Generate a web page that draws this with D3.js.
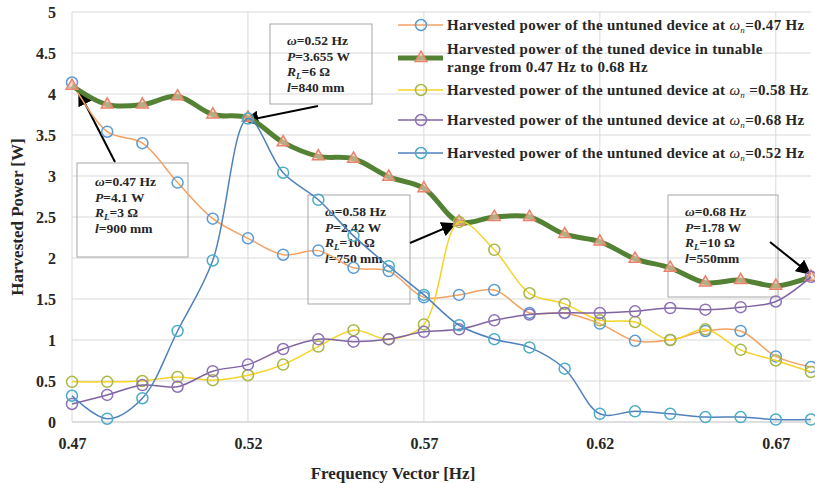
<!DOCTYPE html>
<html>
<head>
<meta charset="utf-8">
<script src="https://cdn.jsdelivr.net/npm/d3@7"></script>
<style>
  body { margin: 0; background: #fff; }
  svg { display: block; }
  text { font-family: "Liberation Serif", "Times New Roman", serif; font-weight: bold; fill: #262626; }
</style>
</head>
<body>
<svg id="chart" width="815" height="483"></svg>
<script>
// frequency vector [Hz]
var freq = [0.47, 0.48, 0.49, 0.50, 0.51, 0.52, 0.53, 0.54, 0.55, 0.56, 0.57,
            0.58, 0.59, 0.60, 0.61, 0.62, 0.63, 0.64, 0.65, 0.66, 0.67, 0.68];

// harvested power [W]
var untuned047 = [4.14, 3.54, 3.40, 2.92, 2.48, 2.24, 2.04, 2.09, 1.88, 1.84, 1.52,
                  1.55, 1.61, 1.33, 1.33, 1.20, 0.99, 1.00, 1.11, 1.11, 0.80, 0.67];
var tuned = [4.10, 3.87, 3.87, 3.97, 3.75, 3.71, 3.41, 3.24, 3.21, 2.99, 2.85,
             2.44, 2.50, 2.50, 2.29, 2.20, 1.99, 1.88, 1.70, 1.73, 1.66, 1.77];
var untuned058 = [0.49, 0.49, 0.50, 0.55, 0.51, 0.57, 0.70, 0.92, 1.12, 1.01, 1.19,
                  2.44, 2.10, 1.57, 1.44, 1.24, 1.22, 1.00, 1.13, 0.88, 0.75, 0.61];
var untuned068 = [0.22, 0.33, 0.45, 0.43, 0.62, 0.70, 0.89, 1.01, 0.98, 1.01, 1.10,
                  1.13, 1.24, 1.31, 1.33, 1.33, 1.35, 1.39, 1.37, 1.40, 1.47, 1.77];
var untuned052 = [0.32, 0.04, 0.29, 1.11, 1.97, 3.70, 3.04, 2.71, 2.27, 1.90, 1.55,
                  1.18, 1.01, 0.91, 0.65, 0.10, 0.13, 0.10, 0.06, 0.06, 0.03, 0.03];

var xTicks = [0.47, 0.52, 0.57, 0.62, 0.67];
var yTicks = [0, 0.5, 1, 1.5, 2, 2.5, 3, 3.5, 4, 4.5, 5];

// annotation boxes: omega, P, RL, l, and the point they refer to
var notes = [
  {w: "0.47 Hz", p: "4.1 W", r: "3 \u03A9", l: "900 mm", i: 0, vals: tuned},
  {w: "0.52 Hz", p: "3.655 W", r: "6 \u03A9", l: "840 mm", i: 5, vals: tuned},
  {w: "0.58 Hz", p: "2.42 W", r: "10 \u03A9", l: "750 mm", i: 11, vals: tuned},
  {w: "0.68 Hz", p: "1.78 W", r: "10 \u03A9", l: "550mm", i: 21, vals: tuned}
];

var series = [
  {vals: untuned047, line: "#f4a263", mk: "#5b9bd5", w: 1.5, shape: "circle",
   label: [["Harvested power of the untuned device at ", "0.47 Hz", ""]]},
  {vals: tuned, line: "#548235", mk: "#e8826a", w: 5, shape: "triangle",
   label: [["Harvested power of the tuned device in tunable"], ["range from 0.47 Hz to 0.68 Hz"]]},
  {vals: untuned058, line: "#f5d327", mk: "#a9b748", w: 1.5, shape: "circle",
   label: [["Harvested power of the untuned device at ", "0.58 Hz", " "]]},
  {vals: untuned068, line: "#8064a2", mk: "#8f72b5", w: 1.5, shape: "circle",
   label: [["Harvested power of the untuned device at ", "0.68 Hz", ""]]},
  {vals: untuned052, line: "#4f81bd", mk: "#4bacc6", w: 1.5, shape: "circle",
   label: [["Harvested power of the untuned device at ", "0.52 Hz", ""]]}
];

var svg = d3.select("#chart"),
  plot = {left: 72, right: 811, top: 12, bottom: 422};

var x = d3.scaleLinear().domain([0.47, 0.68]).range([plot.left, plot.right]);
var y = d3.scaleLinear().domain([0, 5]).range([plot.bottom, plot.top]);

// arrow head
svg.append("defs").append("marker")
  .attr("id", "arrow")
  .attr("viewBox", "0 0 10 10")
  .attr("refX", 9).attr("refY", 5)
  .attr("markerWidth", 7.5).attr("markerHeight", 7.5)
  .attr("orient", "auto")
  .append("path").attr("d", "M0,0L10,5L0,10z").attr("fill", "#000");

// grid
svg.append("g").selectAll("line")
  .data(yTicks.slice(1))
  .enter().append("line")
  .attr("x1", plot.left).attr("x2", plot.right)
  .attr("y1", function(d) { return y(d); }).attr("y2", function(d) { return y(d); })
  .attr("stroke", "#d9d9d9").attr("stroke-width", 1);

svg.append("g").selectAll("line")
  .data(xTicks)
  .enter().append("line")
  .attr("x1", function(d) { return x(d); }).attr("x2", function(d) { return x(d); })
  .attr("y1", plot.top).attr("y2", plot.bottom)
  .attr("stroke", "#d9d9d9").attr("stroke-width", 1);

svg.append("line")
  .attr("x1", plot.left).attr("x2", plot.right)
  .attr("y1", y(0)).attr("y2", y(0))
  .attr("stroke", "#bfbfbf").attr("stroke-width", 1.2);

// axes
var yAxis = svg.append("g")
  .attr("transform", "translate(" + plot.left + ",0)")
  .call(d3.axisLeft(y).tickValues(yTicks).tickSize(0).tickPadding(16).tickFormat(d3.format("")));
yAxis.select(".domain").remove();
yAxis.selectAll("text").style("font-size", "16px").attr("font-family", null);

var xAxis = svg.append("g")
  .attr("transform", "translate(0," + plot.bottom + ")")
  .call(d3.axisBottom(x).tickValues(xTicks).tickSize(0).tickPadding(16).tickFormat(d3.format(".2f")));
xAxis.select(".domain").remove();
xAxis.selectAll("text").style("font-size", "16px").attr("font-family", null);

svg.append("text")
  .attr("transform", "translate(23," + ((plot.top + plot.bottom) / 2) + ") rotate(-90)")
  .attr("text-anchor", "middle")
  .style("font-size", "17px")
  .text("Harvested Power [W]");

svg.append("text")
  .attr("x", 393).attr("y", 479)
  .attr("text-anchor", "middle")
  .style("font-size", "17px")
  .text("Frequency Vector [Hz]");

// annotation boxes
var boxes = [
  {x: 77, y: 163, w: 111, h: 94, tx: 95, ty: 186, tail: [115, 162], off: [7, 6]},
  {x: 270, y: 24, w: 102, h: 80, tx: 287, ty: 45, tail: [318, 106], off: [-3, 3]},
  {x: 308, y: 195, w: 102, h: 109, tx: 325, ty: 216, tail: [410, 243], off: [-4, 2]},
  {x: 668, y: 195, w: 110, h: 102, tx: 685, ty: 216, tail: [770, 242], off: [-1, -3]}
];

notes.forEach(function(n, k) {
  var b = boxes[k];
  var ga = svg.append("g");
  ga.append("rect")
    .attr("x", b.x).attr("y", b.y).attr("width", b.w).attr("height", b.h)
    .attr("fill", "none").attr("stroke", "#a6a6a6").attr("stroke-width", 1);
  var lh = 15.5, fs = "13.5px";
  var t1 = ga.append("text").attr("x", b.tx).attr("y", b.ty).style("font-size", fs);
  t1.append("tspan").style("font-style", "italic").text("\u03C9");
  t1.append("tspan").text("=" + n.w);
  var t2 = ga.append("text").attr("x", b.tx).attr("y", b.ty + lh).style("font-size", fs);
  t2.append("tspan").style("font-style", "italic").text("P");
  t2.append("tspan").text("=" + n.p);
  var t3 = ga.append("text").attr("x", b.tx).attr("y", b.ty + 2 * lh).style("font-size", fs);
  t3.append("tspan").style("font-style", "italic").text("R");
  t3.append("tspan").style("font-style", "italic").style("font-size", "9px").attr("dy", 3).text("L");
  t3.append("tspan").attr("dy", -3).text("=" + n.r);
  var t4 = ga.append("text").attr("x", b.tx).attr("y", b.ty + 3 * lh).style("font-size", fs);
  t4.append("tspan").style("font-style", "italic").text("l");
  t4.append("tspan").text("=" + n.l);

  svg.append("line")
    .attr("x1", b.tail[0]).attr("y1", b.tail[1])
    .attr("x2", x(freq[n.i]) + b.off[0]).attr("y2", y(n.vals[n.i]) + b.off[1])
    .attr("stroke", "#000").attr("stroke-width", 2)
    .attr("marker-end", "url(#arrow)");
});

// series
var line = d3.line()
  .x(function(d, i) { return x(freq[i]); })
  .y(function(d) { return y(d); })
  .curve(d3.curveCatmullRom.alpha(0.5));

var tri = d3.symbol().type(d3.symbolTriangle).size(60);

function drawMarker(sel, s) {
  if (s.shape === "circle") {
    sel.append("circle").attr("r", 5.5)
      .attr("fill", "none").attr("stroke", s.mk).attr("stroke-width", 1.5);
  } else {
    sel.append("path").attr("d", tri)
      .attr("fill", "#f6c9b8").attr("fill-opacity", 0.6)
      .attr("stroke", s.mk).attr("stroke-width", 1.5);
  }
}

series.forEach(function(s) {
  svg.append("path")
    .datum(s.vals)
    .attr("d", line)
    .attr("fill", "none")
    .attr("stroke", s.line)
    .attr("stroke-width", s.w)
    .attr("stroke-linejoin", "round");

  svg.append("g").selectAll("g")
    .data(s.vals)
    .enter().append("g")
    .attr("transform", function(d, i) { return "translate(" + x(freq[i]) + "," + y(d) + ")"; })
    .each(function() { drawMarker(d3.select(this), s); });
});

// legend
var legY = [25, 58, 90, 120, 153];
var legFont = "15px", legSpacing = "0.3px";
series.forEach(function(s, k) {
  var lg = svg.append("g").attr("transform", "translate(0," + legY[k] + ")");
  lg.append("line").attr("x1", 398).attr("x2", 443).attr("y1", 0).attr("y2", 0)
    .attr("stroke", s.line).attr("stroke-width", s.w);
  var m = lg.append("g").attr("transform", "translate(421,0)");
  drawMarker(m, s);

  if (s.label.length === 2) {
    lg.append("text").attr("x", 447).attr("y", -4).style("font-size", legFont)
      .style("letter-spacing", legSpacing).text(s.label[0][0]);
    lg.append("text").attr("x", 447).attr("y", 14).style("font-size", legFont)
      .style("letter-spacing", legSpacing).text(s.label[1][0]);
  } else {
    var t = lg.append("text").attr("x", 447).attr("y", 5).style("font-size", legFont)
      .style("letter-spacing", legSpacing);
    t.append("tspan").text(s.label[0][0]);
    t.append("tspan").style("font-style", "italic").style("font-weight", "normal").text("\u03C9");
    t.append("tspan").style("font-style", "italic").style("font-weight", "normal")
      .style("font-size", "9px").attr("dy", 3).text("n");
    t.append("tspan").attr("dy", -3).text(s.label[0][2] + "=" + s.label[0][1]);
  }
});
</script>
</body>
</html>
